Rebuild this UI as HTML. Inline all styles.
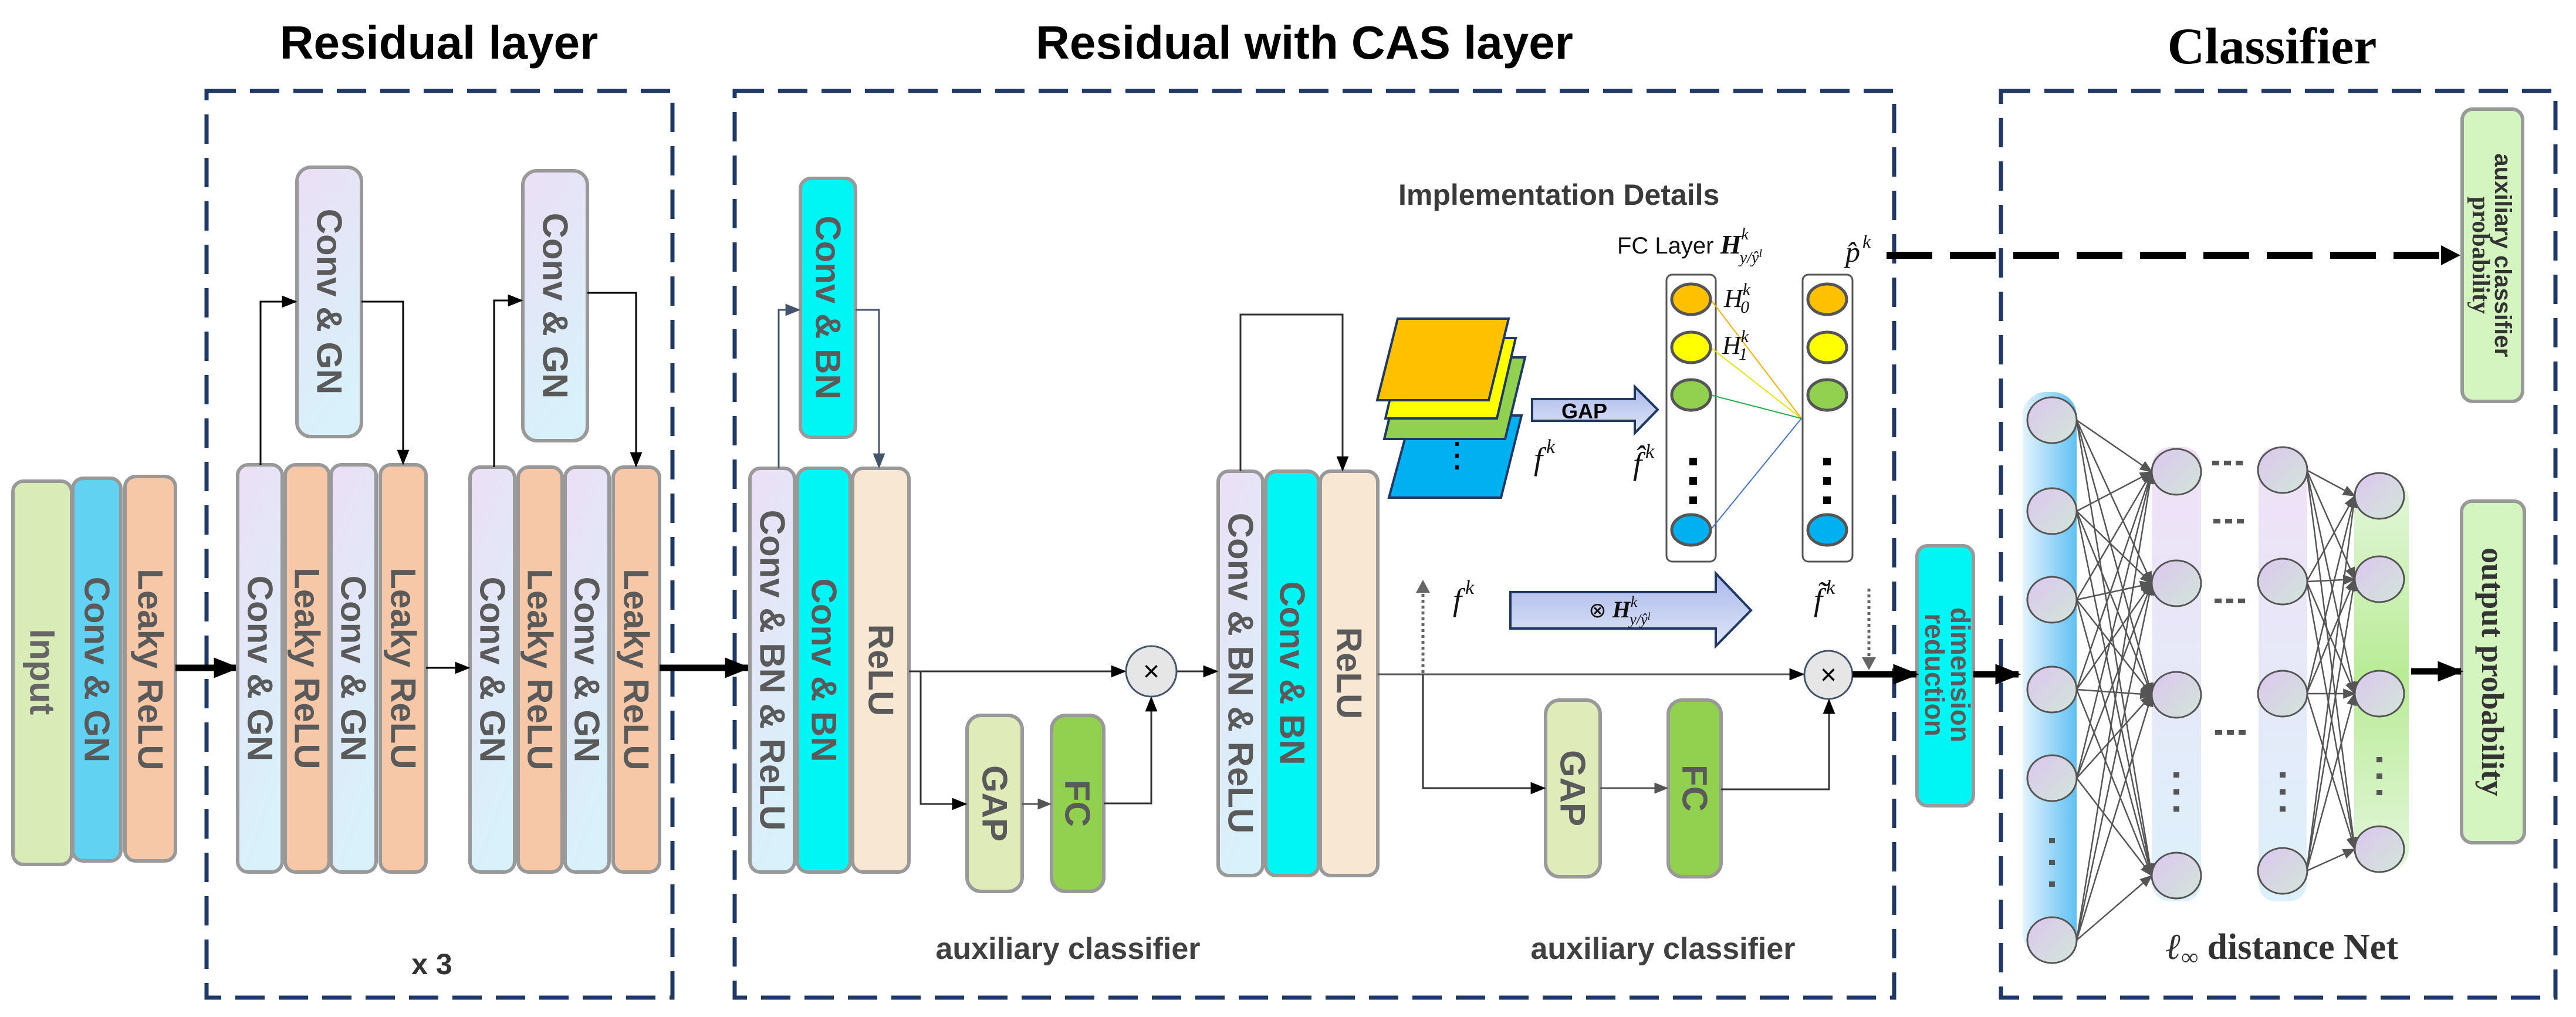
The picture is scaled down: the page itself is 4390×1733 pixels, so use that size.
<!DOCTYPE html>
<html><head><meta charset="utf-8"><style>
html,body{margin:0;padding:0;background:#fff;}
svg{display:block;}
text{font-family:"Liberation Sans",sans-serif;}
.bt{font-weight:bold;fill:#5a5a5a;font-size:60px;}
.m{font-family:"Liberation Serif",serif;font-style:italic;fill:#111;}
</style></head><body>
<svg width="4390" height="1733" viewBox="0 0 4390 1733" xmlns="http://www.w3.org/2000/svg">
<defs>
<linearGradient id="lav" x1="0" y1="0" x2="0.3" y2="1"><stop offset="0" stop-color="#ecdff6"/><stop offset="1" stop-color="#d8f1fa"/></linearGradient>
<linearGradient id="neu" x1="0" y1="0" x2="1" y2="1"><stop offset="0" stop-color="#dcc6f0"/><stop offset="1" stop-color="#d2e6d8"/></linearGradient>
<linearGradient id="bband" x1="0" y1="0" x2="1" y2="0"><stop offset="0" stop-color="#e3f3fd"/><stop offset="1" stop-color="#5fc0f2"/></linearGradient>
<linearGradient id="lband" x1="0" y1="0" x2="0" y2="1"><stop offset="0" stop-color="#f0e0f6"/><stop offset="1" stop-color="#dcf1fb"/></linearGradient>
<linearGradient id="gband" x1="0" y1="0" x2="0" y2="1"><stop offset="0" stop-color="#e4f6dc"/><stop offset="0.5" stop-color="#b9ec96"/><stop offset="1" stop-color="#e4f6dc"/></linearGradient>
<linearGradient id="barrow" x1="0" y1="0" x2="0" y2="1"><stop offset="0" stop-color="#aab8ea"/><stop offset="1" stop-color="#dfe5f8"/></linearGradient>
<marker id="as" viewBox="0 0 10 10" refX="9" refY="5" markerWidth="26" markerHeight="26" orient="auto" markerUnits="userSpaceOnUse"><path d="M0,1 L10,5 L0,9z" fill="#000"/></marker>
<marker id="asg" viewBox="0 0 10 10" refX="9" refY="5" markerWidth="26" markerHeight="26" orient="auto" markerUnits="userSpaceOnUse"><path d="M0,1 L10,5 L0,9z" fill="#44546a"/></marker>
<marker id="ag" viewBox="0 0 10 10" refX="9" refY="5" markerWidth="24" markerHeight="24" orient="auto" markerUnits="userSpaceOnUse"><path d="M0,1 L10,5 L0,9z" fill="#555"/></marker>
<marker id="at" viewBox="0 0 10 10" refX="9" refY="5" markerWidth="44" markerHeight="44" orient="auto" markerUnits="userSpaceOnUse"><path d="M0,1 L10,5 L0,9z" fill="#000"/></marker>
<marker id="an" viewBox="0 0 10 10" refX="9" refY="5" markerWidth="22" markerHeight="22" orient="auto" markerUnits="userSpaceOnUse"><path d="M0,1 L10,5 L0,9z" fill="#555"/></marker>
</defs>

<!-- titles -->
<text x="748" y="100" font-size="80" font-weight="bold" text-anchor="middle">Residual layer</text>
<text x="2223" y="100" font-size="80" font-weight="bold" text-anchor="middle">Residual with CAS layer</text>
<text x="3872" y="108" font-size="88" font-weight="bold" text-anchor="middle" style="font-family:'Liberation Serif',serif">Classifier</text>

<!-- dashed boxes -->
<g fill="none" stroke="#1f3864" stroke-width="7" stroke-dasharray="50 24">
<rect x="352" y="155" width="794" height="1545"/>
<rect x="1252" y="155" width="1976" height="1545"/>
<rect x="3410" y="155" width="945" height="1545"/>
</g>

<!-- left input blocks -->
<g stroke="#999" stroke-width="6">
<rect x="22" y="820" width="100" height="653" rx="18" fill="#d9ebb6"/>
<rect x="124" y="815" width="82" height="652" rx="18" fill="#62d2f3"/>
<rect x="213" y="812" width="86" height="655" rx="18" fill="#f7c8a7"/>
</g>
<text class="bt" transform="translate(72,1145) rotate(90)" text-anchor="middle" dominant-baseline="central" style="fill:#666">Input</text>
<text class="bt" transform="translate(165,1141) rotate(90)" text-anchor="middle" dominant-baseline="central">Conv &amp; GN</text>
<text class="bt" transform="translate(256,1141) rotate(90)" text-anchor="middle" dominant-baseline="central">Leaky ReLU</text>
<line x1="299" y1="1138" x2="404" y2="1138" stroke="#000" stroke-width="11" marker-end="url(#at)"/>

<!-- residual groups -->
<g stroke="#999" stroke-width="6">
<rect x="405" y="792" width="76" height="694" rx="18" fill="url(#lav)"/>
<rect x="486" y="792" width="75" height="694" rx="18" fill="#f7c8a7"/>
<rect x="564" y="792" width="77" height="694" rx="18" fill="url(#lav)"/>
<rect x="648" y="792" width="78" height="694" rx="18" fill="#f7c8a7"/>
<rect x="506" y="285" width="110" height="459" rx="24" fill="url(#lav)"/>
<rect x="801" y="796" width="76" height="690" rx="18" fill="url(#lav)"/>
<rect x="883" y="796" width="75" height="690" rx="18" fill="#f7c8a7"/>
<rect x="963" y="796" width="75" height="690" rx="18" fill="url(#lav)"/>
<rect x="1045" y="796" width="79" height="690" rx="18" fill="#f7c8a7"/>
<rect x="891" y="291" width="110" height="460" rx="24" fill="url(#lav)"/>
</g>
<g class="bt">
<text transform="translate(443,1139) rotate(90)" text-anchor="middle" dominant-baseline="central">Conv &amp; GN</text>
<text transform="translate(523,1139) rotate(90)" text-anchor="middle" dominant-baseline="central">Leaky ReLU</text>
<text transform="translate(602,1139) rotate(90)" text-anchor="middle" dominant-baseline="central">Conv &amp; GN</text>
<text transform="translate(687,1139) rotate(90)" text-anchor="middle" dominant-baseline="central">Leaky ReLU</text>
<text transform="translate(561,514) rotate(90)" text-anchor="middle" dominant-baseline="central">Conv &amp; GN</text>
<text transform="translate(839,1141) rotate(90)" text-anchor="middle" dominant-baseline="central">Conv &amp; GN</text>
<text transform="translate(920,1141) rotate(90)" text-anchor="middle" dominant-baseline="central">Leaky ReLU</text>
<text transform="translate(1000,1141) rotate(90)" text-anchor="middle" dominant-baseline="central">Conv &amp; GN</text>
<text transform="translate(1084,1141) rotate(90)" text-anchor="middle" dominant-baseline="central">Leaky ReLU</text>
<text transform="translate(946,521) rotate(90)" text-anchor="middle" dominant-baseline="central">Conv &amp; GN</text>
</g>
<g fill="none" stroke="#000" stroke-width="3">
<polyline points="444,792 444,514 504,514" marker-end="url(#as)"/>
<polyline points="616,514 687,514 687,790" marker-end="url(#as)"/>
<line x1="726" y1="1138" x2="799" y2="1138" marker-end="url(#as)"/>
<polyline points="842,796 842,512 889,512" marker-end="url(#as)"/>
<polyline points="1001,499 1084,499 1084,794" marker-end="url(#as)"/>
</g>
<text x="736" y="1660" font-size="50" font-weight="bold" text-anchor="middle" fill="#333">x 3</text>
<line x1="1124" y1="1138" x2="1275" y2="1138" stroke="#000" stroke-width="11" marker-end="url(#at)"/>

<!-- CAS part -->
<g stroke="#999" stroke-width="6">
<rect x="1364" y="304" width="94" height="441" rx="18" fill="#00f5f5"/>
<rect x="1278" y="798" width="76" height="688" rx="18" fill="url(#lav)"/>
<rect x="1359" y="798" width="90" height="688" rx="18" fill="#00f5f5"/>
<rect x="1453" y="798" width="96" height="688" rx="18" fill="#f8e8d3"/>
<rect x="1648" y="1219" width="94" height="300" rx="24" fill="#dfebb9"/>
<rect x="1792" y="1219" width="89" height="300" rx="24" fill="#92d050"/>
<rect x="2076" y="803" width="76" height="689" rx="18" fill="url(#lav)"/>
<rect x="2157" y="803" width="90" height="689" rx="18" fill="#00f5f5"/>
<rect x="2250" y="803" width="98" height="689" rx="18" fill="#f8e8d3"/>
<rect x="2634" y="1193" width="93" height="301" rx="24" fill="#dfebb9"/>
<rect x="2843" y="1193" width="90" height="301" rx="24" fill="#92d050"/>
<rect x="3267" y="930" width="96" height="443" rx="18" fill="#00f5f5"/>
</g>
<g class="bt">
<text transform="translate(1411,524) rotate(90)" text-anchor="middle" dominant-baseline="central">Conv &amp; BN</text>
<text transform="translate(1316,1142) rotate(90)" text-anchor="middle" dominant-baseline="central">Conv &amp; BN &amp; ReLU</text>
<text transform="translate(1404,1142) rotate(90)" text-anchor="middle" dominant-baseline="central">Conv &amp; BN</text>
<text transform="translate(1501,1142) rotate(90)" text-anchor="middle" dominant-baseline="central">ReLU</text>
<text transform="translate(1695,1369) rotate(90)" text-anchor="middle" dominant-baseline="central">GAP</text>
<text transform="translate(1836,1369) rotate(90)" text-anchor="middle" dominant-baseline="central">FC</text>
<text transform="translate(2114,1147) rotate(90)" text-anchor="middle" dominant-baseline="central">Conv &amp; BN &amp; ReLU</text>
<text transform="translate(2202,1147) rotate(90)" text-anchor="middle" dominant-baseline="central">Conv &amp; BN</text>
<text transform="translate(2299,1147) rotate(90)" text-anchor="middle" dominant-baseline="central">ReLU</text>
<text transform="translate(2680,1343) rotate(90)" text-anchor="middle" dominant-baseline="central">GAP</text>
<text transform="translate(2888,1343) rotate(90)" text-anchor="middle" dominant-baseline="central">FC</text>
<text transform="translate(3315,1150) rotate(90)" text-anchor="middle" style="font-size:46px" y="-10">dimension</text>
<text transform="translate(3315,1150) rotate(90)" text-anchor="middle" style="font-size:46px" y="34">reduction</text>
</g>
<g fill="none" stroke="#44546a" stroke-width="3">
<polyline points="1327,798 1327,528 1362,528" marker-end="url(#asg)"/>
<polyline points="1458,528 1498,528 1498,796" marker-end="url(#asg)"/>
</g>
<g fill="none" stroke="#333" stroke-width="3">
<line x1="1549" y1="1144" x2="1917" y2="1144" marker-end="url(#as)"/>
<polyline points="1569,1144 1569,1370 1646,1370" marker-end="url(#as)"/>
<line x1="1742" y1="1370" x2="1790" y2="1370" stroke="#555" marker-end="url(#ag)"/>
<polyline points="1881,1369 1962,1369 1962,1189" marker-end="url(#as)"/>
<line x1="2005" y1="1144" x2="2074" y2="1144" marker-end="url(#as)"/>
<polyline points="2114,803 2114,536 2288,536 2288,801" marker-end="url(#as)"/>
<line x1="2348" y1="1149" x2="3073" y2="1149" stroke="#555" marker-end="url(#as)"/>
<polyline points="2425,1149 2425,1343 2632,1343" marker-end="url(#as)"/>
<line x1="2727" y1="1343" x2="2841" y2="1343" stroke="#555" marker-end="url(#ag)"/>
<polyline points="2933,1345 3117,1345 3117,1193" marker-end="url(#as)"/>
</g>
<circle cx="1962" cy="1144" r="43" fill="#e6e6e6" stroke="#44546a" stroke-width="3"/>
<text x="1962" y="1160" font-size="48" text-anchor="middle">×</text>
<circle cx="3116" cy="1150" r="41" fill="#e6e6e6" stroke="#44546a" stroke-width="3"/>
<text x="3116" y="1166" font-size="48" text-anchor="middle">×</text>
<text x="1820" y="1634" font-size="52" font-weight="bold" text-anchor="middle" fill="#404040">auxiliary classifier</text>
<text x="2834" y="1634" font-size="52" font-weight="bold" text-anchor="middle" fill="#404040">auxiliary classifier</text>

<!-- implementation details -->
<text x="2383" y="349" font-size="50" font-weight="bold" fill="#3a3a3a">Implementation Details</text>
<text x="2756" y="432" font-size="40" fill="#111">FC Layer <tspan class="m" font-weight="bold" font-size="46">H</tspan><tspan font-size="28" class="m" dy="-24">k</tspan><tspan font-size="28" class="m" dx="-15" dy="40">y/ŷ</tspan><tspan font-size="20" class="m" dy="-10">l</tspan></text>
<g stroke="#1f3864" stroke-width="4">
<polygon points="2405,708 2593,708 2558,848 2367,848" fill="#00b0f0"/>
<polygon points="2393,609 2599,609 2565,748 2359,748" fill="#92d050"/>
<polygon points="2393,576 2583,576 2551,713 2361,713" fill="#ffff00"/>
<polygon points="2382,543 2571,543 2537,682 2347,682" fill="#ffc000"/>
</g>
<g fill="#000"><rect x="2480" y="753" width="6" height="7"/><rect x="2480" y="773" width="6" height="7"/><rect x="2480" y="793" width="6" height="7"/></g>
<text x="2614" y="800" font-size="54" class="m">f<tspan font-size="34" dy="-28" dx="6">k</tspan></text>
<polygon points="2611,680 2786,680 2786,659 2825,698 2786,738 2786,717 2611,717" fill="url(#barrow)" stroke="#203864" stroke-width="4"/>
<text x="2700" y="713" font-size="36" font-weight="bold" text-anchor="middle">GAP</text>
<text x="2783" y="808" font-size="54" class="m">f̂<tspan font-size="34" dy="-28" dx="6">k</tspan></text>

<rect x="2840" y="468" width="84" height="489" rx="10" fill="#fff" stroke="#555" stroke-width="3"/>
<rect x="3072" y="468" width="85" height="489" rx="10" fill="#fff" stroke="#555" stroke-width="3"/>
<g stroke-width="2" fill="none">
<line x1="2915" y1="510" x2="3070" y2="713" stroke="#f5b000"/>
<line x1="2915" y1="592" x2="3070" y2="713" stroke="#e5e500"/>
<line x1="2915" y1="673" x2="3070" y2="713" stroke="#27b050"/>
<line x1="2915" y1="903" x2="3070" y2="713" stroke="#4472c4"/>
</g>
<g stroke="#555" stroke-width="5">
<ellipse cx="2882" cy="510" rx="33" ry="26" fill="#ffc000"/>
<ellipse cx="2882" cy="592" rx="33" ry="26" fill="#ffff00"/>
<ellipse cx="2882" cy="673" rx="33" ry="26" fill="#92d050"/>
<ellipse cx="2882" cy="903" rx="33" ry="26" fill="#00b0f0"/>
<ellipse cx="3114" cy="510" rx="33" ry="26" fill="#ffc000"/>
<ellipse cx="3114" cy="592" rx="33" ry="26" fill="#ffff00"/>
<ellipse cx="3114" cy="673" rx="33" ry="26" fill="#92d050"/>
<ellipse cx="3114" cy="903" rx="33" ry="26" fill="#00b0f0"/>
</g>
<g fill="#000">
<rect x="2879" y="780" width="13" height="13"/><rect x="2879" y="813" width="13" height="13"/><rect x="2879" y="846" width="13" height="13"/>
<rect x="3107" y="780" width="13" height="13"/><rect x="3107" y="813" width="13" height="13"/><rect x="3107" y="846" width="13" height="13"/>
</g>
<text x="2938" y="523" font-size="44" class="m">H<tspan font-size="30" dy="-20">k</tspan><tspan font-size="30" dx="-17" dy="30">0</tspan></text>
<text x="2935" y="603" font-size="44" class="m">H<tspan font-size="30" dy="-20">k</tspan><tspan font-size="30" dx="-17" dy="30">1</tspan></text>
<text x="3145" y="446" font-size="50" class="m">p̂<tspan font-size="32" dy="-24" dx="4">k</tspan></text>

<line x1="2425" y1="1147" x2="2425" y2="1003" stroke="#666" stroke-width="5" stroke-dasharray="5 5"/>
<path d="M2413,1010 L2425,988 L2437,1010z" fill="#666"/>
<text x="2476" y="1040" font-size="54" class="m">f<tspan font-size="34" dy="-28" dx="6">k</tspan></text>
<polygon points="2574,1009 2924,1009 2924,977 2984,1040 2924,1101 2924,1071 2574,1071" fill="url(#barrow)" stroke="#203864" stroke-width="4"/>
<text x="2760" y="1052" font-size="36" fill="#111" text-anchor="middle">⊗ <tspan class="m" font-weight="bold" font-size="40">H</tspan><tspan class="m" font-size="26" dy="-18">k</tspan><tspan class="m" font-size="26" dx="-13" dy="30">y/ŷ</tspan><tspan class="m" font-size="18" dy="-8">l</tspan></text>
<text x="3091" y="1040" font-size="54" class="m">f̃<tspan font-size="34" dy="-28" dx="6">k</tspan></text>
<line x1="3185" y1="1003" x2="3185" y2="1125" stroke="#666" stroke-width="5" stroke-dasharray="5 5"/>
<path d="M3173,1120 L3185,1142 L3197,1120z" fill="#666"/>

<!-- thick arrows -->
<line x1="3157" y1="1149" x2="3266" y2="1149" stroke="#000" stroke-width="11" marker-end="url(#at)"/>
<line x1="3363" y1="1149" x2="3440" y2="1149" stroke="#000" stroke-width="11" marker-end="url(#at)"/>
<line x1="3215" y1="435" x2="4160" y2="435" stroke="#000" stroke-width="12" stroke-dasharray="78 30"/>
<path d="M4160,418 L4193,435 L4160,452z" fill="#000"/>

<!-- classifier -->
<g stroke="#999" stroke-width="6">
<rect x="4196" y="186" width="103" height="498" rx="18" fill="#d5f5c0"/>
<rect x="4195" y="854" width="107" height="582" rx="18" fill="#d5f5c0"/>
</g>
<text transform="translate(4248,435) rotate(90)" text-anchor="middle" font-size="40" font-weight="bold" fill="#333" y="-4" style="font-family:'Liberation Sans',sans-serif">auxiliary classifier</text>
<text transform="translate(4248,435) rotate(90)" text-anchor="middle" font-size="42" font-weight="bold" fill="#333" y="34" style="font-family:'Liberation Serif',serif">probability</text>
<text transform="translate(4248,1145) rotate(90)" text-anchor="middle" dominant-baseline="central" font-size="54" font-weight="bold" fill="#333" style="font-family:'Liberation Serif',serif">output probability</text>

<rect x="3447" y="668" width="92" height="962" rx="40" fill="url(#bband)"/>
<rect x="3668" y="762" width="83" height="774" rx="30" fill="url(#lband)"/>
<rect x="3849" y="762" width="82" height="774" rx="30" fill="url(#lband)"/>
<rect x="4012" y="820" width="93" height="660" rx="30" fill="url(#gband)"/>

<g stroke="#555" stroke-width="2.5" fill="none" marker-end="url(#an)">
<line x1="3539" y1="716" x2="3667" y2="804"/><line x1="3539" y1="716" x2="3667" y2="994"/><line x1="3539" y1="716" x2="3667" y2="1184"/><line x1="3539" y1="716" x2="3667" y2="1492"/>
<line x1="3539" y1="871" x2="3667" y2="804"/><line x1="3539" y1="871" x2="3667" y2="994"/><line x1="3539" y1="871" x2="3667" y2="1184"/><line x1="3539" y1="871" x2="3667" y2="1492"/>
<line x1="3539" y1="1022" x2="3667" y2="804"/><line x1="3539" y1="1022" x2="3667" y2="994"/><line x1="3539" y1="1022" x2="3667" y2="1184"/><line x1="3539" y1="1022" x2="3667" y2="1492"/>
<line x1="3539" y1="1175" x2="3667" y2="804"/><line x1="3539" y1="1175" x2="3667" y2="994"/><line x1="3539" y1="1175" x2="3667" y2="1184"/><line x1="3539" y1="1175" x2="3667" y2="1492"/>
<line x1="3539" y1="1326" x2="3667" y2="804"/><line x1="3539" y1="1326" x2="3667" y2="994"/><line x1="3539" y1="1326" x2="3667" y2="1184"/><line x1="3539" y1="1326" x2="3667" y2="1492"/>
<line x1="3539" y1="1602" x2="3667" y2="804"/><line x1="3539" y1="1602" x2="3667" y2="994"/><line x1="3539" y1="1602" x2="3667" y2="1184"/><line x1="3539" y1="1602" x2="3667" y2="1492"/>
<line x1="3931" y1="801" x2="4013" y2="845"/><line x1="3931" y1="801" x2="4013" y2="987"/><line x1="3931" y1="801" x2="4013" y2="1182"/><line x1="3931" y1="801" x2="4013" y2="1447"/>
<line x1="3931" y1="991" x2="4013" y2="845"/><line x1="3931" y1="991" x2="4013" y2="987"/><line x1="3931" y1="991" x2="4013" y2="1182"/><line x1="3931" y1="991" x2="4013" y2="1447"/>
<line x1="3931" y1="1182" x2="4013" y2="845"/><line x1="3931" y1="1182" x2="4013" y2="987"/><line x1="3931" y1="1182" x2="4013" y2="1182"/><line x1="3931" y1="1182" x2="4013" y2="1447"/>
<line x1="3931" y1="1484" x2="4013" y2="845"/><line x1="3931" y1="1484" x2="4013" y2="987"/><line x1="3931" y1="1484" x2="4013" y2="1182"/><line x1="3931" y1="1484" x2="4013" y2="1447"/>
</g>
<g stroke="#555" stroke-width="3" fill="url(#neu)">
<ellipse cx="3497" cy="716" rx="42" ry="39"/><ellipse cx="3497" cy="871" rx="42" ry="39"/><ellipse cx="3497" cy="1022" rx="42" ry="39"/><ellipse cx="3497" cy="1175" rx="42" ry="39"/><ellipse cx="3497" cy="1326" rx="42" ry="39"/><ellipse cx="3497" cy="1602" rx="42" ry="39"/>
<ellipse cx="3709" cy="804" rx="42" ry="39"/><ellipse cx="3709" cy="994" rx="42" ry="39"/><ellipse cx="3709" cy="1184" rx="42" ry="39"/><ellipse cx="3709" cy="1492" rx="42" ry="39"/>
<ellipse cx="3890" cy="801" rx="42" ry="39"/><ellipse cx="3890" cy="991" rx="42" ry="39"/><ellipse cx="3890" cy="1182" rx="42" ry="39"/><ellipse cx="3890" cy="1484" rx="42" ry="39"/>
<ellipse cx="4055" cy="845" rx="42" ry="39"/><ellipse cx="4055" cy="987" rx="42" ry="39"/><ellipse cx="4055" cy="1182" rx="42" ry="39"/><ellipse cx="4055" cy="1447" rx="42" ry="39"/>
</g>
<g fill="#555">
<rect x="3492" y="1428" width="10" height="9"/><rect x="3492" y="1465" width="10" height="9"/><rect x="3492" y="1502" width="10" height="9"/>
<rect x="3704" y="1316" width="10" height="9"/><rect x="3704" y="1345" width="10" height="9"/><rect x="3704" y="1374" width="10" height="9"/>
<rect x="3885" y="1316" width="10" height="9"/><rect x="3885" y="1345" width="10" height="9"/><rect x="3885" y="1374" width="10" height="9"/>
<rect x="4050" y="1290" width="10" height="9"/><rect x="4050" y="1318" width="10" height="9"/><rect x="4050" y="1346" width="10" height="9"/>
</g>
<g fill="#555">
<rect x="3770" y="785" width="12" height="8"/><rect x="3790" y="785" width="12" height="8"/><rect x="3810" y="785" width="12" height="8"/>
<rect x="3772" y="884" width="12" height="8"/><rect x="3792" y="884" width="12" height="8"/><rect x="3812" y="884" width="12" height="8"/>
<rect x="3774" y="1020" width="12" height="8"/><rect x="3794" y="1020" width="12" height="8"/><rect x="3814" y="1020" width="12" height="8"/>
<rect x="3775" y="1244" width="12" height="8"/><rect x="3795" y="1244" width="12" height="8"/><rect x="3815" y="1244" width="12" height="8"/>
</g>
<line x1="4109" y1="1144" x2="4194" y2="1144" stroke="#000" stroke-width="11" marker-end="url(#at)"/>
<text x="3889" y="1634" font-size="62" font-weight="bold" text-anchor="middle" fill="#333" style="font-family:'Liberation Serif',serif"><tspan font-style="italic">ℓ</tspan><tspan font-size="40" dy="10">∞</tspan><tspan dy="-10"> distance Net</tspan></text>
</svg>
</body></html>
